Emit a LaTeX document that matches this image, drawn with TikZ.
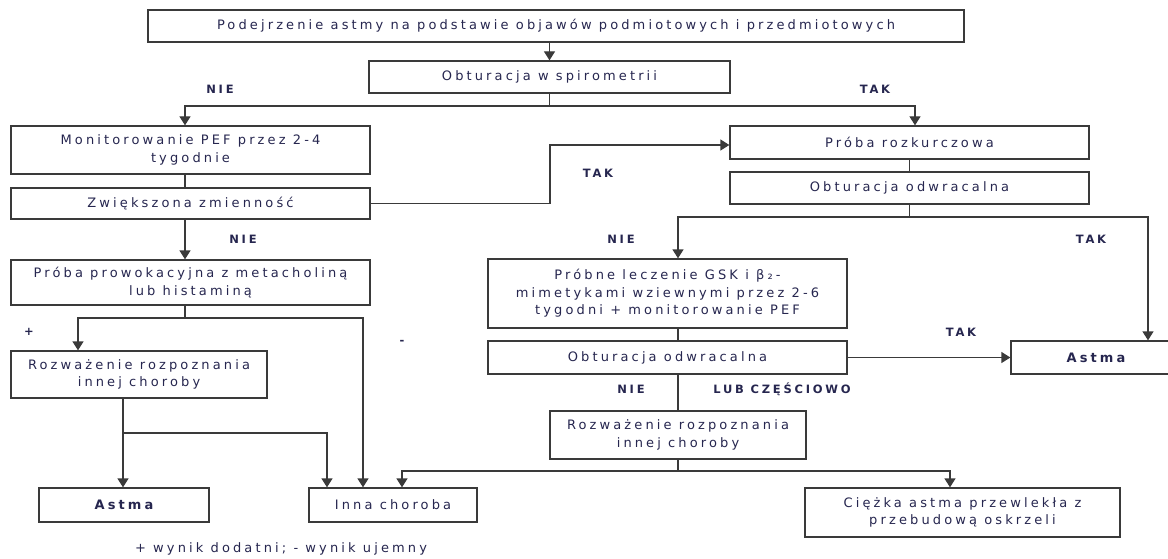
\documentclass[tikz,border=0pt]{standalone}
\usepackage{fontspec}
\setmainfont{DejaVu Sans}
\newfontfamily\spacedfont{DejaVu Sans}[LetterSpace=24]
\usetikzlibrary{arrows.meta}
\definecolor{ink}{HTML}{26264F}
\definecolor{rule}{HTML}{3A3A3A}
\tikzset{
  stepbox/.style={draw=rule, line width=1.3pt, text=ink, align=center, inner sep=0pt,
    font=\spacedfont\fontsize{13}{17.5}\selectfont},
  lbl/.style={text=ink, inner sep=0pt, font=\spacedfont\bfseries\fontsize{11.5}{13}\selectfont},
  note/.style={text=ink, inner sep=0pt, font=\spacedfont\fontsize{13}{15}\selectfont},
  link/.style={draw=rule, line width=1.3pt},
  arr/.style={link, -{Triangle[length=9pt, width=11pt]}},
}

\begin{document}
\begin{tikzpicture}[x=1pt, y=-1pt]
\useasboundingbox (0,0) rectangle (1168,559);
% boxes
\node[stepbox, minimum width=816pt, minimum height=32pt] (top) at (556,26) {Podejrzenie astmy na podstawie objawów podmiotowych i przedmiotowych};
\node[stepbox, minimum width=361pt, minimum height=32pt] (spir) at (549.5,77) {Obturacja w spirometrii};
\node[stepbox, minimum width=359pt, minimum height=48pt] (mon) at (190.5,150) {Monitorowanie PEF przez 2-4\\tygodnie};
\node[stepbox, minimum width=359pt, minimum height=31pt] (zw) at (190.5,203.5) {Zwiększona zmienność};
\node[stepbox, minimum width=359pt, minimum height=45pt] (prow) at (190.5,282.5) {Próba prowokacyjna z metacholiną\\lub histaminą};
\node[stepbox, minimum width=256pt, minimum height=47pt] (rozL) at (139,374.5) {Rozważenie rozpoznania\\innej choroby};
\node[stepbox, minimum width=170pt, minimum height=34pt] (astL) at (124,505) {\bfseries Astma};
\node[stepbox, minimum width=168pt, minimum height=34pt] (inna) at (393,505) {Inna choroba};
\node[stepbox, minimum width=359pt, minimum height=33pt] (rozk) at (909.5,142.5) {Próba rozkurczowa};
\node[stepbox, minimum width=359pt, minimum height=32pt] (obt1) at (909.5,188) {Obturacja odwracalna};
\node[stepbox, minimum width=359pt, minimum height=69pt] (lecz) at (667.5,293.5) {Próbne leczenie GSK i β₂-\\mimetykami wziewnymi przez 2-6\\tygodni + monitorowanie PEF};
\node[stepbox, minimum width=359pt, minimum height=33pt] (obt2) at (667.5,357.5) {Obturacja odwracalna};
\node[stepbox, minimum width=170pt, minimum height=33pt] (astR) at (1096,357.5) {\bfseries Astma};
\node[stepbox, minimum width=256pt, minimum height=48pt] (rozR) at (678,435) {Rozważenie rozpoznania\\innej choroby};
\node[stepbox, minimum width=315pt, minimum height=49pt] (ciez) at (962.5,512.5) {Ciężka astma przewlekła z\\przebudową oskrzeli};

% bends
\coordinate (sL) at (185,106);
\coordinate (sR) at (915,106);
\coordinate (zt) at (550,145);
\coordinate (pL) at (78,318);
\coordinate (pR) at (363,318);
\coordinate (rL) at (123,433);
\coordinate (rR) at (327,433);
\coordinate (oL) at (678,217);
\coordinate (oR) at (1148,217);
\coordinate (qL) at (402,471);
\coordinate (qR) at (950,471);

% connectors
\draw[arr] (top.south -| spir.north) -- (spir.north);
\draw[arr] (spir.south) |- (sL) -- (sL |- mon.north);
\draw[arr] (spir.south) |- (sR) -- (sR |- rozk.north);
\draw[link] (mon.south -| sL) -- (zw.north -| sL);
\draw[arr] (zw.east) -| (zt) -- (zt -| rozk.west);
\draw[arr] (zw.south -| sL) -- (prow.north -| sL);
\draw[arr] (prow.south -| sL) |- (pL) -- (pL |- rozL.north);
\draw[arr] (prow.south -| sL) |- (pR) -- (pR |- inna.north);
\draw[arr] (rozL.south -| rL) -- (rL |- astL.north);
\draw[arr] (rL) -- (rR) -- (rR |- inna.north);
\draw[link] (rozk.south) -- (obt1.north);
\draw[arr] (obt1.south) |- (oL) -- (oL |- lecz.north);
\draw[arr] (obt1.south) |- (oR) -- (oR |- astR.north);
\draw[link] (lecz.south -| oL) -- (obt2.north -| oL);
\draw[arr] (obt2.east) -- (astR.west |- obt2.east);
\draw[link] (obt2.south -| rozR.north) -- (rozR.north);
\draw[arr] (rozR.south) |- (qL) -- (qL |- inna.north);
\draw[arr] (rozR.south) |- (qR) -- (qR |- ciez.north);

% labels
\node[lbl] (nie1) at (220,89) {NIE};
\node[lbl] (tak1) at (875,89) {TAK};
\node[lbl] (tak2) at (598,173) {TAK};
\node[lbl] (nie2) at (243,239) {NIE};
\node[lbl] (nie3) at (621,239) {NIE};
\node[lbl] (tak3) at (1091,239) {TAK};
\node[lbl] (plus) at (29,332) {+};
\node[lbl] (minus) at (402,342) {-};
\node[lbl] (tak4) at (961,332) {TAK};
\node[lbl] (nie4) at (631,389) {NIE};
\node[lbl] (czesc) at (782,389) {LUB CZĘŚCIOWO};
\node[note] (legend) at (281,549) {+ wynik dodatni; - wynik ujemny};
\end{tikzpicture}
\end{document}
